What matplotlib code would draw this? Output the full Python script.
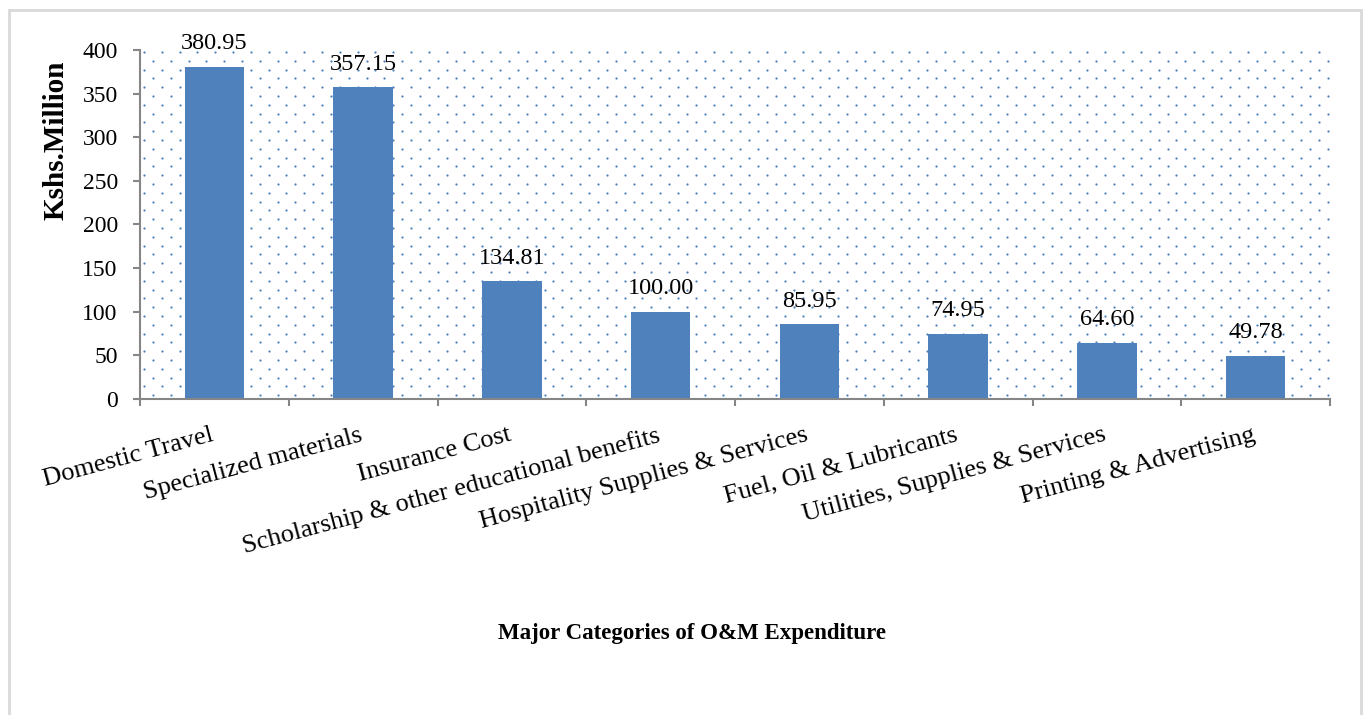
import numpy as np
import matplotlib
matplotlib.use("Agg")
import matplotlib.pyplot as plt
from matplotlib.patches import Rectangle

categories = ["Domestic Travel", "Specialized materials", "Insurance Cost",
              "Scholarship & other educational benefits",
              "Hospitality Supplies & Services", "Fuel, Oil & Lubricants",
              "Utilities, Supplies & Services", "Printing & Advertising"]
values = [380.95, 357.15, 134.81, 100.00, 85.95, 74.95, 64.60, 49.78]
yticks = [0, 50, 100, 150, 200, 250, 300, 350, 400]

blue = "#4F81BD"
grey = "#868686"
W, H = 1363, 715

plt.rcParams["font.family"] = ["Liberation Serif", "DejaVu Serif"]

fig = plt.figure(figsize=(W / 100, H / 100), dpi=100)
ax = fig.add_axes([140 / W, 1 - 399 / H, (1330 - 140) / W, (399 - 50) / H])

# dotted plot-area fill (staggered rows)
ax_w, ax_h = 1330 - 140, 399 - 50
dx, dy = 17.8, 8.8
px, py = [], []
for i, yy in enumerate(np.arange(2, ax_h, dy)):
    start = 4 if i % 2 == 0 else 4 + dx / 2
    for xx in np.arange(start, ax_w, dx):
        px.append(xx / ax_w)
        py.append(1 - yy / ax_h)
ax.scatter(px, py, s=2.6, color=blue, linewidths=0, transform=ax.transAxes,
           zorder=0, clip_on=True)

x = np.arange(len(categories))
bars = ax.bar(x, values, width=0.4, color=blue, zorder=2)
ax.bar_label(bars, labels=[f"{v:.2f}" for v in values], padding=9, fontsize=17.5)

ax.set_xlim(-0.5, len(categories) - 0.5)
ax.set_ylim(0, 400)
ax.set_yticks(yticks)
ax.tick_params(axis="y", labelsize=17, length=5, width=1.5, color=grey, pad=11)

# ticks between categories, labels rotated under each bar
ax.set_xticks(np.arange(len(categories) + 1) - 0.5)
ax.set_xticklabels([])
ax.tick_params(axis="x", length=5, width=1.5, color=grey)
for xi, name in zip(x, categories):
    ax.annotate(name, xy=(xi, 0), xycoords=("data", "axes fraction"),
                xytext=(-3, -18), textcoords="offset points",
                ha="right", va="top", rotation=15, rotation_mode="anchor",
                fontsize=19)

for side in ["top", "right"]:
    ax.spines[side].set_visible(False)
for side in ["left", "bottom"]:
    ax.spines[side].set_color(grey)
    ax.spines[side].set_linewidth(1.5)

fig.text(56 / W, 1 - 140 / H, "Kshs.Million", rotation=90, ha="center",
         va="center", fontsize=21, fontweight="bold")
fig.text(692 / W, 1 - 634 / H, "Major Categories of O&M Expenditure",
         ha="center", va="center", fontsize=16.5, fontweight="bold")

fig.patches.append(Rectangle((9 / W, -0.05), (1361 - 9) / W, 1.05 - 10 / H,
                             transform=fig.transFigure, fill=False,
                             edgecolor="#D9D9D9", linewidth=2))

fig.savefig("out.png", dpi=100)
